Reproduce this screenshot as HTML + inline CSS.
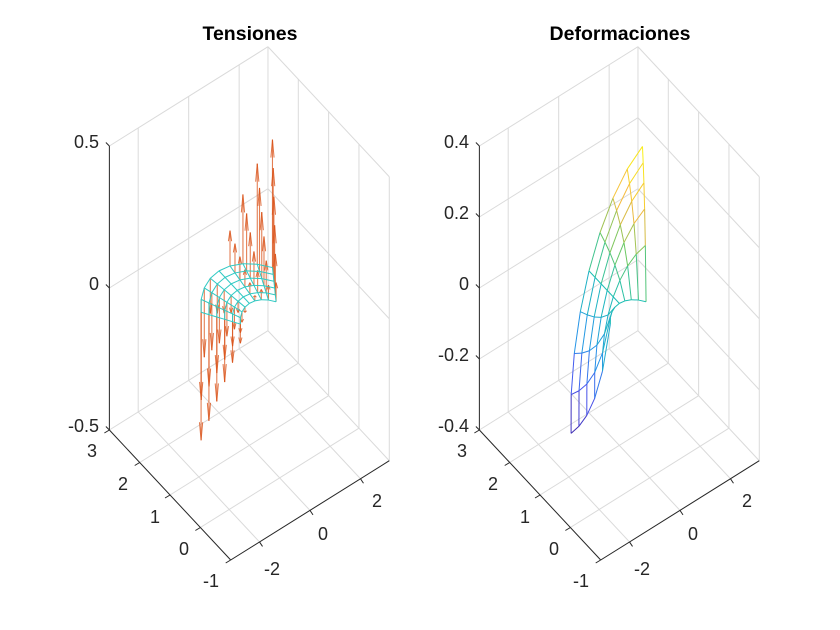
<!DOCTYPE html>
<html><head><meta charset="utf-8">
<style>
html,body{margin:0;padding:0;background:#fff;}
svg{display:block;font-family:"Liberation Sans",Arial,sans-serif;}
.t{font-size:18px;fill:#262626;}
.ti{font-size:19.5px;font-weight:bold;fill:#000;text-anchor:middle;}
</style></head>
<body>
<svg id="s" width="840" height="630" viewBox="0 0 840 630" xmlns="http://www.w3.org/2000/svg">
<rect width="840" height="630" fill="#fff"/>
<g id="g"></g>
<text class="ti" x="250" y="40">Tensiones</text>
<text class="ti" x="620" y="40">Deformaciones</text>
<g class="t" text-anchor="end">
<text x="99" y="148">0.5</text>
<text x="99" y="290">0</text>
<text x="99" y="432">-0.5</text>
<text x="469" y="148">0.4</text>
<text x="469" y="219">0.2</text>
<text x="469" y="290">0</text>
<text x="469" y="361">-0.2</text>
<text x="469" y="432">-0.4</text>
</g>
<g class="t" text-anchor="middle">
<text x="92" y="457">3</text>
<text x="123" y="490">2</text>
<text x="155" y="523">1</text>
<text x="184" y="555">0</text>
<text x="211" y="587">-1</text>
<text x="272" y="575">-2</text>
<text x="323" y="540">0</text>
<text x="377" y="507">2</text>
<text x="462" y="457">3</text>
<text x="493" y="490">2</text>
<text x="525" y="523">1</text>
<text x="554" y="555">0</text>
<text x="581" y="587">-1</text>
<text x="642" y="575">-2</text>
<text x="693" y="540">0</text>
<text x="747" y="507">2</text>
</g>
</svg>
<script>
(function(){
var NS="http://www.w3.org/2000/svg",g=document.getElementById("g"),PI=Math.PI;
function P(x,y,z,zmin,zr,off){var a=x+PI,b=y+1,c=(z-zmin)/zr;return [230.7+off+25.24*a-30.33*b,560-15.80*a-32.5*b-284*c];}
function line(p,q,col,w,op){var l=document.createElementNS(NS,"line");l.setAttribute("x1",p[0].toFixed(2));l.setAttribute("y1",p[1].toFixed(2));l.setAttribute("x2",q[0].toFixed(2));l.setAttribute("y2",q[1].toFixed(2));l.setAttribute("stroke",col);l.setAttribute("stroke-width",w||1);if(op)l.setAttribute("stroke-opacity",op);g.appendChild(l);}
function axes(off,zmin,zr,zt){
  var gc="#dadada",ac="#262626";
  var zmax=zmin+zr;
  function p(x,y,z){return P(x,y,z,zmin,zr,off);}
  zt.forEach(function(z){line(p(-PI,3,z),p(PI,3,z),gc);line(p(PI,3,z),p(PI,-1,z),gc);});
  [-2,0,2].forEach(function(x){line(p(x,3,zmin),p(x,3,zmax),gc);line(p(x,-1,zmin),p(x,3,zmin),gc);});
  [-1,0,1,2].forEach(function(y){line(p(PI,y,zmin),p(PI,y,zmax),gc);line(p(-PI,y,zmin),p(PI,y,zmin),gc);});
  line(p(PI,3,zmin),p(PI,3,zmax),gc);
  line(p(-PI,3,zmin),p(-PI,3,zmax),ac);
  line(p(-PI,3,zmin),p(-PI,-1,zmin),ac);
  line(p(-PI,-1,zmin),p(PI,-1,zmin),ac);
  zt.forEach(function(z){var a=p(-PI,3,z);line(a,[a[0]-3.5,a[1]-3.5],ac);});
  [3,2,1,0,-1].forEach(function(y){var a=p(-PI,y,zmin);line(a,[a[0]-5,a[1]+3],ac);});
  [-2,0,2].forEach(function(x){var a=p(x,-1,zmin);line(a,[a[0]+3,a[1]+4.5],ac);});
}
axes(0,-0.5,1,[-0.5,0,0.5]);
axes(370,-0.4,0.8,[-0.4,-0.2,0,0.2,0.4]);
var NR=5,NT=8;
function node(i,j){var r=1+i/NR,t=PI/4+(PI/2)*j/NT;return [r*Math.cos(t),r*Math.sin(t),r,t];}
for(var i=0;i<=NR;i++)for(var j=0;j<=NT;j++){
  var n=node(i,j),b=P(n[0],n[1],0,-0.5,1,0);
  var k=Math.SQRT2*Math.cos(n[3]);
  var L=128*k*(0.15+0.85*(n[2]-1));
  if(Math.abs(L)<2)continue;
  var e=[b[0],b[1]-L];
  line(b,e,"#D95319",1.1,0.75);
  var hl=Math.min(18,Math.abs(L)*0.3),d=L>0?1:-1;
  line(e,[e[0]-1.6,e[1]+d*hl],"#D95319",1,0.8);
  line(e,[e[0]+1.6,e[1]+d*hl],"#D95319",1,0.8);
}
var mc="#2fc9c3";
for(var i=0;i<=NR;i++)for(var j=0;j<NT;j++){var a=node(i,j),c=node(i,j+1);line(P(a[0],a[1],0,-0.5,1,0),P(c[0],c[1],0,-0.5,1,0),mc,1);}
for(var j=0;j<=NT;j++)for(var i=0;i<NR;i++){var a=node(i,j),c=node(i+1,j);line(P(a[0],a[1],0,-0.5,1,0),P(c[0],c[1],0,-0.5,1,0),mc,1);}
var stops=[[0,[62,38,168]],[0.15,[72,85,240]],[0.3,[35,150,230]],[0.5,[27,190,180]],[0.65,[110,200,95]],[0.8,[245,185,62]],[1,[249,245,20]]];
function cmap(v){v=Math.max(0,Math.min(1,v));for(var k=1;k<stops.length;k++){if(v<=stops[k][0]){var a=stops[k-1],b=stops[k],f=(v-a[0])/(b[0]-a[0]);return "rgb("+[0,1,2].map(function(q){return Math.round(a[1][q]+(b[1][q]-a[1][q])*f);}).join(",")+")";}}return "rgb(249,245,20)";}
function dz(n){return 0.455*(1-1/(n[2]*n[2]))*Math.SQRT2*Math.cos(n[3]);}
function seg(a,c){var za=dz(a),zc=dz(c);line(P(a[0],a[1],za,-0.4,0.8,370),P(c[0],c[1],zc,-0.4,0.8,370),cmap(((za+zc)/2+0.34)/0.68),1);}
for(var i=0;i<=NR;i++)for(var j=0;j<NT;j++)seg(node(i,j),node(i,j+1));
for(var j=0;j<=NT;j++)for(var i=0;i<NR;i++)seg(node(i,j),node(i+1,j));
})();
</script>
</body></html>
